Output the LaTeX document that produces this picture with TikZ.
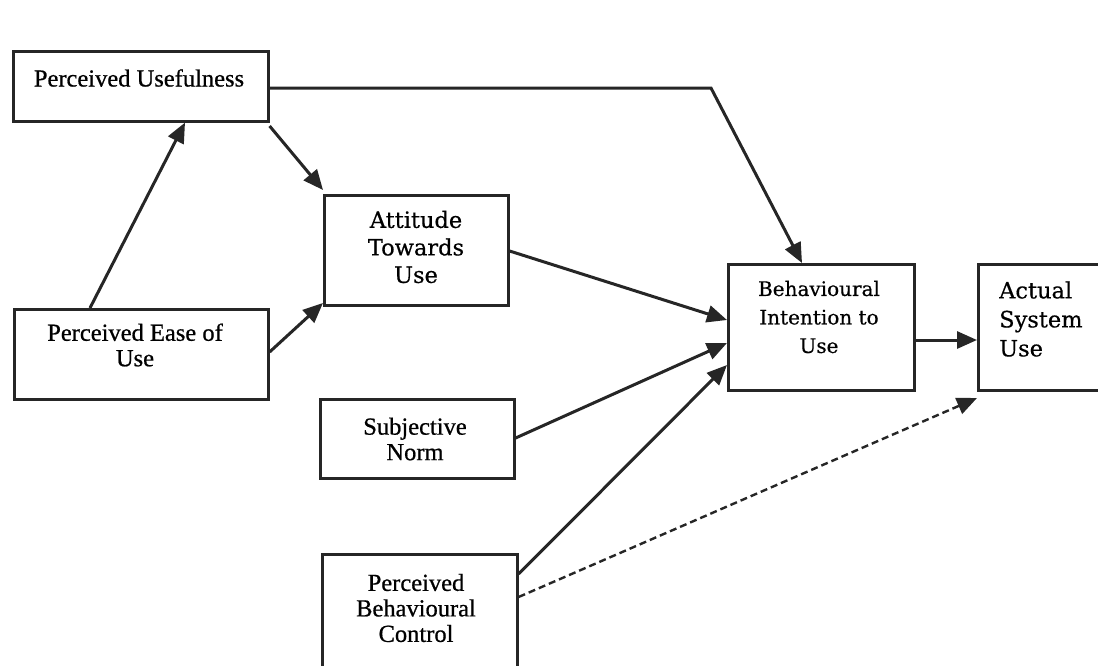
\documentclass[tikz,border=0pt]{standalone}
\usepackage{fontspec}
\setmainfont{Liberation Serif}[FakeBold=0.7]
\newfontfamily\widefont{DejaVu Serif}[FakeBold=0.5]
\usetikzlibrary{arrows.meta}
\tikzset{
  box/.style={draw=black!85, line width=2.6pt, fill=none},
  tms/.style={font=\fontsize{24.5}{25.5}\selectfont, text=black, align=center, inner sep=0pt},
  wide/.style={font=\widefont\fontsize{22.5}{27.5}\selectfont, text=black, align=center, inner sep=0pt},
  arr/.style={draw=black!85, line width=3pt, -{Triangle[length=20pt,width=17pt]}},
  darr/.style={draw=black!85, line width=2.4pt, dash pattern=on 7pt off 4pt, -{Triangle[length=20pt,width=17pt]}}
}
\begin{document}
\begin{tikzpicture}[x=1pt,y=-1pt]
\useasboundingbox (0,0) rectangle (1098,665);
\clip (0,0) rectangle (1098,665);
% boxes
\node[box, minimum width=255pt, minimum height=70pt, anchor=north west] (pu) at (12,50) {};
\node[box, minimum width=254pt, minimum height=90pt, anchor=north west] (peu) at (13,308) {};
\node[box, minimum width=184pt, minimum height=110pt, anchor=north west] (att) at (323,194) {};
\node[box, minimum width=194pt, minimum height=79pt, anchor=north west] (sn) at (319,398) {};
\node[box, minimum width=195pt, minimum height=140pt, anchor=north west] (pbc) at (321,553) {};
\node[box, minimum width=186pt, minimum height=126pt, anchor=north west] (bi) at (727,263) {};
\node[box, minimum width=160pt, minimum height=126pt, anchor=north west] (asu) at (977,263) {};
% texts
\node[tms] (puT) at (139,78) {Perceived Usefulness};
\node[tms] (peuT) at (135,345) {Perceived Ease of\\Use};
\node[wide] (attT) at (416,247) {Attitude\\Towards\\Use};
\node[tms] (snT) at (415,439) {Subjective\\Norm};
\node[tms] (pbcT) at (416,608) {Perceived\\Behavioural\\Control};
\node[wide, font=\widefont\fontsize{20}{28.5}\selectfont] (biT) at (819,317) {Behavioural\\Intention to\\Use};
\node[wide, font=\widefont\fontsize{22.5}{29}\selectfont, align=left, anchor=west] (asuT) at (999,319) {Actual\\System\\Use};
% connectors
\coordinate (puR) at (267,88);
\coordinate (bend) at (711,88);
\draw[arr] (puR) -- (bend) -- (bi.north west -| 802,0);
\draw[arr] (peu.north west -| 90,0) -- (pu.south west -| 185,0);
\draw[arr] (pu.south east |- 0,126) -- (att.north west |- 0,190);
\draw[arr] (peu.east |- 0,352) -- (att.south west |- 0,303);
\draw[arr] (att.east |- 0,251) -- (bi.west |- 0,320);
\draw[arr] (sn.east |- 0,438) -- (bi.west |- 0,343);
\draw[arr] (pbc.east |- 0,574) -- (bi.west |- 0,365);
\draw[arr] (bi.east |- 0,340) -- (asu.west |- 0,340);
\draw[darr] (pbc.east |- 0,597) -- (asu.south west |- 0,398);
\end{tikzpicture}
\end{document}
